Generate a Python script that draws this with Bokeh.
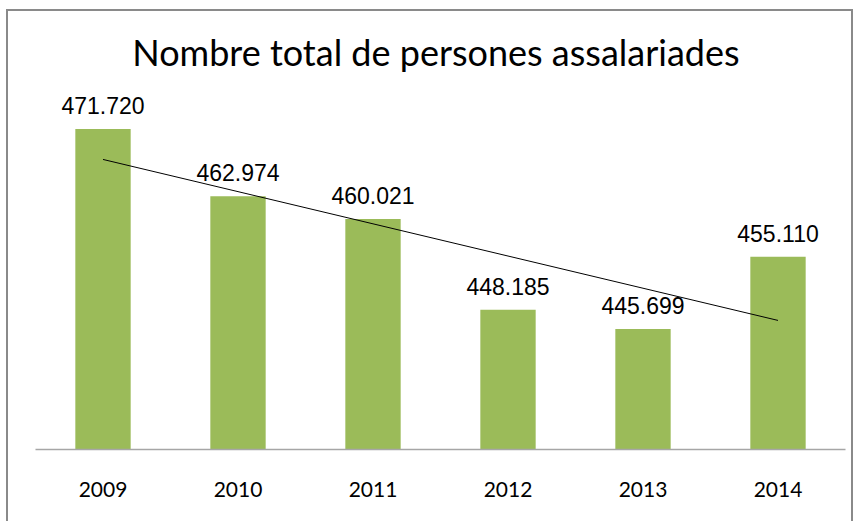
import numpy as np
from bokeh.plotting import figure
from bokeh.models import ColumnDataSource, LabelSet, FactorRange, Range1d
from bokeh.core.properties import value
from bokeh.embed import file_html
from bokeh.resources import INLINE

years = ["2009", "2010", "2011", "2012", "2013", "2014"]
values = [471720, 462974, 460021, 448185, 445699, 455110]
value_labels = ["471.720", "462.974", "460.021", "448.185", "445.699", "455.110"]

# linear trendline (least squares) derived from the data, as in the original spreadsheet
xi = np.arange(len(values))
slope, intercept = np.polyfit(xi, values, 1)
trend = [intercept + slope * i for i in (xi[0], xi[-1])]

src = ColumnDataSource(dict(year=years, value=values, label=value_labels))

p = figure(
    x_range=FactorRange(*years, range_padding=0),
    y_range=Range1d(430000, 477000),
    width=847, height=512,
    output_backend="svg", toolbar_location=None,
    min_border_left=27, min_border_right=10, min_border_top=77, min_border_bottom=74,
    title="Nombre total  de persones assalariades",
    styles={"margin-left": "6px", "margin-top": "9px",
            "border-left": "2px solid #8a8a8a", "border-top": "2px solid #8a8a8a",
            "border-right": "2px solid #8a8a8a"},
)
p.title.align = "center"
p.title.text_font = "Lato"
p.title.text_font_size = "36px"
p.title.text_font_style = "normal"
p.title.text_color = "#000000"
p.title.standoff = 30

p.vbar(x="year", top="value", bottom=430000, width=0.41, source=src,
       fill_color="#9BBB59", line_color=None)

p.line(x=[years[0], years[-1]], y=trend, line_color="#000000", line_width=1)

labels = LabelSet(x="year", y="value", text="label", source=src, y_offset=15,
                  text_align="center", text_baseline="bottom",
                  text_font=value("Liberation Sans"), text_font_size=value("23px"),
                  text_color="#000000")
p.add_layout(labels)

p.yaxis.visible = False
p.xgrid.grid_line_color = None
p.ygrid.grid_line_color = None
p.outline_line_color = None
p.xaxis.axis_line_color = "#a6a6a6"
p.xaxis.axis_line_width = 1.5
p.xaxis.major_tick_line_color = None
p.xaxis.minor_tick_line_color = None
p.xaxis.major_label_standoff = 26
p.xaxis.major_label_text_font = "Lato"
p.xaxis.major_label_text_font_size = "21px"
p.xaxis.major_label_text_color = "#000000"
p.background_fill_color = "#ffffff"
p.border_fill_color = "#ffffff"

open("out.html", "w").write(file_html(p, INLINE))
